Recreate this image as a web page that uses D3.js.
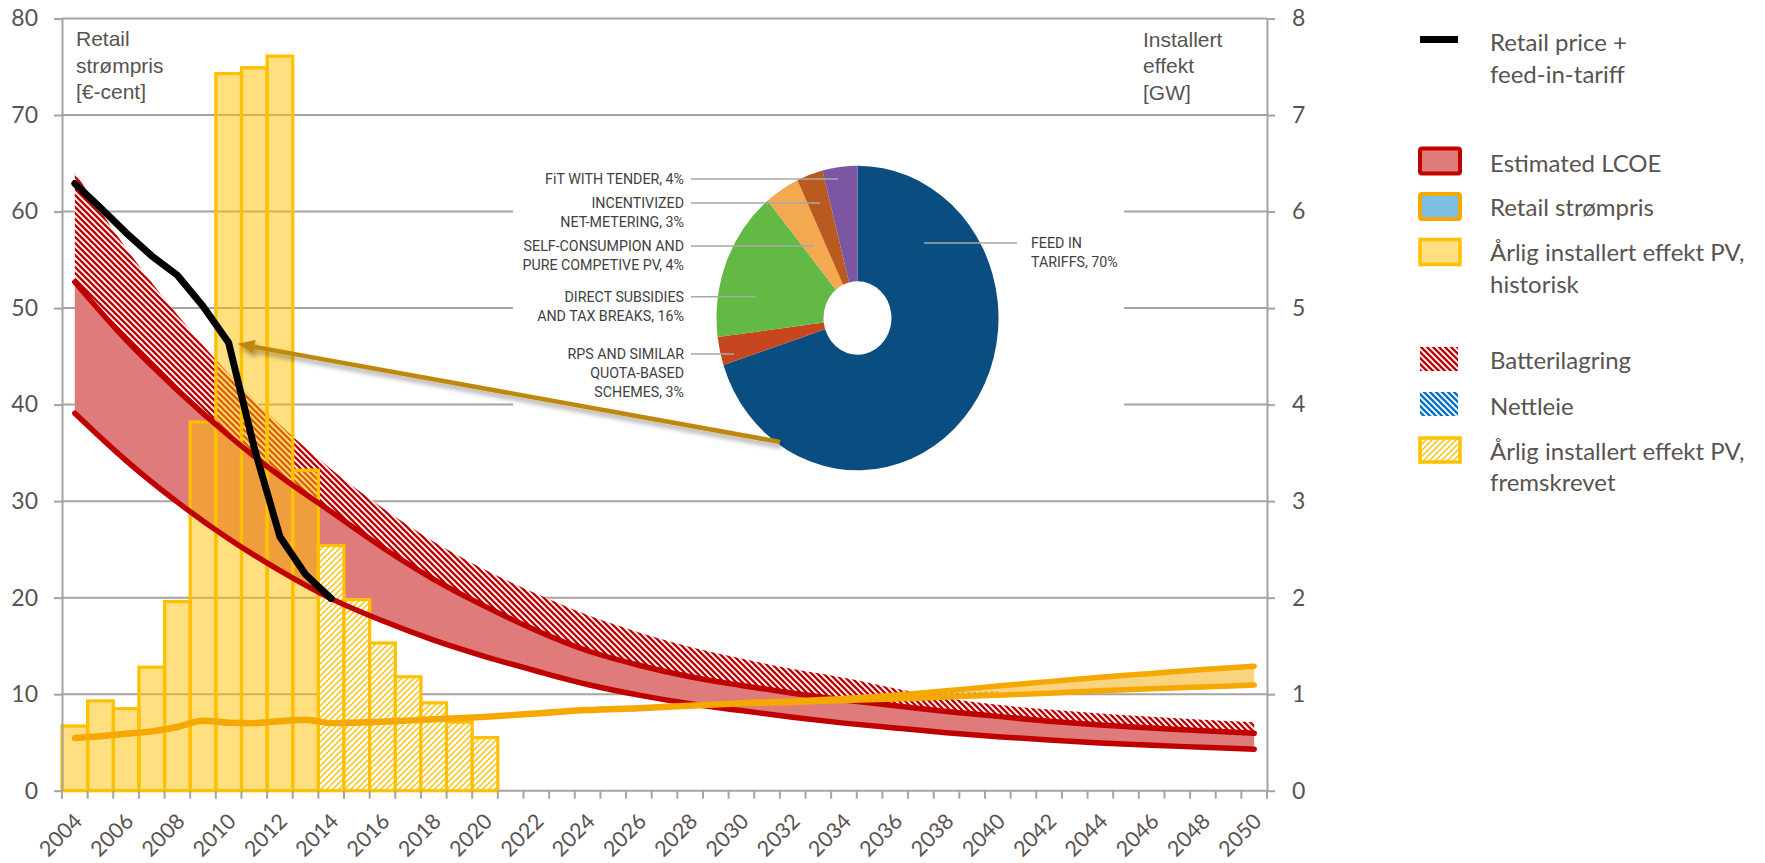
<!DOCTYPE html>
<html>
<head>
<meta charset="utf-8">
<script src="https://cdn.jsdelivr.net/npm/d3@7"></script>
<style>
  body { margin: 0; background: #fff; }
  svg { display: block; }
</style>
</head>
<body>
<svg id="chart" width="1765" height="863"></svg>
<script>
// ---------------- data ----------------
var years = [2004,2005,2006,2007,2008,2009,2010,2011,2012,2013,2014,2015,2016,2017,2018,2019,2020,
             2021,2022,2023,2024,2025,2026,2027,2028,2029,2030,2031,2032,2033,2034,2035,2036,2037,
             2038,2039,2040,2041,2042,2043,2044,2045,2046,2047,2048,2049,2050];
var tickYears = [2004,2006,2008,2010,2012,2014,2016,2018,2020,2022,2024,2026,2028,2030,2032,2034,
                 2036,2038,2040,2042,2044,2046,2048,2050];
var leftTicks = [0,10,20,30,40,50,60,70,80];
var rightTicks = [0,1,2,3,4,5,6,7,8];

// yearly installed PV [GW], right axis
var histYears = [2004,2005,2006,2007,2008,2009,2010,2011,2012,2013];
var histGW    = [0.67,0.93,0.85,1.28,1.96,3.82,7.43,7.49,7.61,3.32];
var projYears = [2014,2015,2016,2017,2018,2019,2020];
var projGW    = [2.54,1.98,1.53,1.18,0.91,0.71,0.55];

// retail price + feed-in-tariff [€-cent]
var fitYears = [2004,2005,2006,2007,2008,2009,2010,2011,2012,2013,2014];
var fitPrice = [62.9,60.4,57.8,55.4,53.4,50.2,46.4,35.5,26.3,22.4,19.9];

// retail strømpris [€-cent], low and high
var retailYears = [2004,2005,2006,2007,2008,2009,2010,2011,2012,2013,2014,2016,2018,2020,2022,2024,
                   2026,2028,2030,2032,2034,2036,2038,2040,2042,2044,2046,2048,2050];
var retailLow  = [5.4,5.6,5.85,6.1,6.55,7.2,7.0,6.95,7.15,7.3,6.95,7.1,7.35,7.6,7.95,8.3,
                  8.5,8.75,9.0,9.15,9.35,9.5,9.7,9.9,10.1,10.35,10.55,10.75,10.95];
var retailHigh = [5.5,5.7,5.95,6.2,6.65,7.3,7.1,7.05,7.25,7.4,7.05,7.2,7.45,7.7,8.05,8.4,
                  8.6,8.85,9.1,9.3,9.55,9.9,10.35,10.85,11.3,11.75,12.15,12.55,12.9];

// nettleie (mostly hidden under the retail band)
var netYears = [2034,2036,2038,2040];
var netLow   = [9.35,9.5,9.7,9.9];
var netHigh  = [9.5,9.8,10.1,10.3];

// estimated LCOE band and battery storage [€-cent]
var lcoeYears  = tickYears;
var lcoeLow    = [39.1,34.2,29.9,26.1,22.8,19.9,17.6,15.6,13.9,12.4,11.0,9.9,9.0,8.3,7.6,7.0,6.5,6.0,5.6,5.25,4.95,4.7,4.5,4.3];
var lcoeHigh   = [52.7,46.7,41.5,36.8,32.6,28.9,25.2,21.9,19.1,16.6,14.5,13.0,11.8,10.9,10.1,9.4,8.8,8.2,7.7,7.2,6.8,6.5,6.2,5.95];
var batteryTop = [64.1,56.2,49.3,43.2,37.9,33.3,29.3,25.8,22.9,20.4,18.2,16.4,14.9,13.7,12.6,11.7,10.6,9.6,8.9,8.4,8.0,7.65,7.35,7.1];

// pie: support schemes (clockwise from 12 o'clock)
var pieNames  = ["FEED IN|TARIFFS, 70%","RPS AND SIMILAR|QUOTA-BASED|SCHEMES, 3%","DIRECT SUBSIDIES|AND TAX BREAKS, 16%",
                 "SELF-CONSUMPION AND|PURE COMPETIVE PV, 4%","INCENTIVIZED|NET-METERING, 3%","FiT WITH TENDER, 4%"];
var pieShares = [70,3,16,4,3,4];
var pieColors = ["#0a4d81","#c6471f","#62b946","#f2a94f","#b95b1f","#7c56a2"];

var legendLabels = ["Retail price +|feed-in-tariff","Estimated LCOE","Retail strømpris",
                    "Årlig installert effekt PV,|historisk","Batterilagring","Nettleie",
                    "Årlig installert effekt PV,|fremskrevet"];

// ---------------- layout ----------------
var X0 = 62, X1 = 1267, Y0 = 790.7, Y1 = 18.5;
var textCol = "#595350", gridCol = "#a6a3a0";

var svg = d3.select("#chart");
var defs = svg.append("defs");

// diagonal hatch tiles: "\" when back=true, "/" otherwise
function hatch(id, color, size, lineW, back) {
  var p = defs.append("pattern").attr("id", id)
      .attr("patternUnits", "userSpaceOnUse")
      .attr("width", size).attr("height", size);
  p.append("rect").attr("width", size).attr("height", size).attr("fill", "#fff");
  var s = size;
  var d = back
    ? "M0,0L" + s + "," + s + "M" + (-s / 2) + "," + (s / 2) + "L" + (s / 2) + "," + (s * 1.5) +
      "M" + (s / 2) + "," + (-s / 2) + "L" + (s * 1.5) + "," + (s / 2)
    : "M0," + s + "L" + s + ",0M" + (-s / 2) + "," + (s / 2) + "L" + (s / 2) + "," + (-s / 2) +
      "M" + (s / 2) + "," + (s * 1.5) + "L" + (s * 1.5) + "," + (s / 2);
  p.append("path").attr("d", d).attr("stroke", color).attr("stroke-width", lineW)
      .attr("stroke-linecap", "square");
}
hatch("redHatch", "#c00000", 6, 2.3, true);
hatch("blueHatch", "#0070c0", 6, 2.3, true);
hatch("goldHatch", "#ffc000", 6, 1.4, false);

var shadow = defs.append("filter").attr("id", "shadow")
    .attr("x", "-10%").attr("y", "-50%").attr("width", "120%").attr("height", "200%");
shadow.append("feDropShadow").attr("dx", 2).attr("dy", 4).attr("stdDeviation", 2.5)
    .attr("flood-color", "#000").attr("flood-opacity", 0.35);

var x = d3.scaleBand().domain(years).range([X0, X1]).padding(0);
var bw = x.bandwidth();
function cx(yr) { return x(yr) + bw / 2; }
var yL = d3.scaleLinear().domain([0, 80]).range([Y0, Y1]);
var yR = d3.scaleLinear().domain([0, 8]).range([Y0, Y1]);

// gridlines
svg.append("g").selectAll("line").data(leftTicks).enter().append("line")
    .attr("x1", X0).attr("x2", X1)
    .attr("y1", function(d) { return yL(d); }).attr("y2", function(d) { return yL(d); })
    .attr("stroke", gridCol).attr("stroke-width", 2);

// white box behind the inset pie
svg.append("rect").attr("x", 513).attr("y", 125).attr("width", 611).attr("height", 355).attr("fill", "#fff");

// ---------------- LCOE band + battery ----------------
var lcoe = lcoeYears.map(function(yr, i) {
  return { yr: yr, lo: lcoeLow[i], hi: lcoeHigh[i], top: batteryTop[i] };
});
var curve = d3.curveMonotoneX;

svg.append("path").datum(lcoe)
    .attr("d", d3.area().curve(curve).x(function(d) { return cx(d.yr); })
        .y0(function(d) { return yL(d.lo); }).y1(function(d) { return yL(d.hi); }))
    .attr("fill", "#e07b7b");

svg.append("path").datum(lcoe)
    .attr("d", d3.area().curve(curve).x(function(d) { return cx(d.yr); })
        .y0(function(d) { return yL(d.hi); }).y1(function(d) { return yL(d.top); }))
    .attr("fill", "url(#redHatch)");

// ---------------- bars ----------------
svg.append("g").selectAll("rect").data(histYears).enter().append("rect")
    .attr("x", function(d) { return x(d); })
    .attr("y", function(d, i) { return yR(histGW[i]); })
    .attr("width", bw)
    .attr("height", function(d, i) { return Y0 - yR(histGW[i]); })
    .attr("fill", "rgba(255,192,0,0.5)")
    .attr("stroke", "#ffc000").attr("stroke-width", 3.2);

svg.append("g").selectAll("rect").data(projYears).enter().append("rect")
    .attr("x", function(d) { return x(d); })
    .attr("y", function(d, i) { return yR(projGW[i]); })
    .attr("width", bw)
    .attr("height", function(d, i) { return Y0 - yR(projGW[i]); })
    .attr("fill", "url(#goldHatch)")
    .attr("stroke", "#ffc000").attr("stroke-width", 3.2);

// LCOE edges
["lo", "hi"].forEach(function(k) {
  svg.append("path").datum(lcoe)
      .attr("d", d3.line().curve(curve).x(function(d) { return cx(d.yr); }).y(function(d) { return yL(d[k]); }))
      .attr("fill", "none").attr("stroke", "#c00000").attr("stroke-width", 5.5)
      .attr("stroke-linecap", "round");
});

// ---------------- retail strømpris ----------------
var net = netYears.map(function(yr, i) { return { yr: yr, lo: netLow[i], hi: netHigh[i] }; });
svg.append("path").datum(net)
    .attr("d", d3.area().curve(curve).x(function(d) { return cx(d.yr); })
        .y0(function(d) { return yL(d.lo); }).y1(function(d) { return yL(d.hi); }))
    .attr("fill", "url(#blueHatch)").attr("opacity", 0.55);

var retail = retailYears.map(function(yr, i) { return { yr: yr, lo: retailLow[i], hi: retailHigh[i] }; });
svg.append("path").datum(retail)
    .attr("d", d3.area().curve(curve).x(function(d) { return cx(d.yr); })
        .y0(function(d) { return yL(d.lo); }).y1(function(d) { return yL(d.hi); }))
    .attr("fill", "rgba(245,168,0,0.5)");
["lo", "hi"].forEach(function(k) {
  svg.append("path").datum(retail)
      .attr("d", d3.line().curve(curve).x(function(d) { return cx(d.yr); }).y(function(d) { return yL(d[k]); }))
      .attr("fill", "none").attr("stroke", "#f5a800").attr("stroke-width", 5.5)
      .attr("stroke-linecap", "round");
});

// ---------------- retail price + FiT ----------------
svg.append("path").datum(fitYears)
    .attr("d", d3.line().x(function(d) { return cx(d); }).y(function(d, i) { return yL(fitPrice[i]); }))
    .attr("fill", "none").attr("stroke", "#000").attr("stroke-width", 7)
    .attr("stroke-linejoin", "round").attr("stroke-linecap", "round");

// ---------------- axes ----------------
var leftAxis = svg.append("g").attr("transform", "translate(" + X0 + ",0)")
    .call(d3.axisLeft(yL).tickValues(leftTicks).tickSize(8).tickSizeOuter(0).tickPadding(16));
var rightAxis = svg.append("g").attr("transform", "translate(" + X1 + ",0)")
    .call(d3.axisRight(yR).tickValues(rightTicks).tickSize(8).tickSizeOuter(0).tickPadding(17));
[leftAxis, rightAxis].forEach(function(a) {
  a.select(".domain").attr("stroke", gridCol).attr("stroke-width", 2);
  a.selectAll(".tick line").attr("stroke", gridCol).attr("stroke-width", 2);
  a.selectAll(".tick text").attr("fill", textCol).style("font-family", "Lato, sans-serif")
      .style("font-size", "23px");
});

// x ticks at category edges
var edges = years.map(function(d) { return x(d); }).concat([X1]);
svg.append("g").selectAll("line").data(edges).enter().append("line")
    .attr("x1", function(d) { return d; }).attr("x2", function(d) { return d; })
    .attr("y1", Y0).attr("y2", Y0 + 8)
    .attr("stroke", gridCol).attr("stroke-width", 2);

svg.append("g").selectAll("text").data(tickYears).enter().append("text")
    .attr("transform", function(d) { return "translate(" + (cx(d) + 3) + "," + 817 + ") rotate(-45)"; })
    .attr("text-anchor", "end").attr("dominant-baseline", "central")
    .attr("fill", textCol).style("font-family", "Lato, sans-serif").style("font-size", "21.5px")
    .text(function(d) { return d; });

// axis titles
function multiline(g, lines, x0, y0, step, anchor) {
  lines.forEach(function(t, i) {
    g.append("text").attr("x", x0).attr("y", y0 + i * step)
        .attr("text-anchor", anchor || "start").attr("dominant-baseline", "central").text(t);
  });
}
var titles = svg.append("g").attr("fill", textCol)
    .style("font-family", "'Liberation Sans', Arial, sans-serif").style("font-size", "21px");
multiline(titles, ["Retail", "strømpris", "[€-cent]"], 76, 38.5, 26.5);
multiline(titles, ["Installert", "effekt", "[GW]"], 1143, 39, 26.5);

// ---------------- inset pie ----------------
var pieCx = 857.5, pieCy = 318;
var pieG = svg.append("g").attr("transform", "translate(" + pieCx + "," + pieCy + ") scale(1,1.08)");
var arcs = d3.pie().sort(null).value(function(d) { return d; })(pieShares);
pieG.selectAll("path").data(arcs).enter().append("path")
    .attr("d", d3.arc().innerRadius(34).outerRadius(141))
    .attr("fill", function(d, i) { return pieColors[i]; });

// label rows and leader lines (layout only)
var pieLayout = [
  { x: 1031, y: 243, lx1: 924, lx2: 1017, anchor: "start" },
  { x: 684, y: 354, lx1: 691, lx2: 734, anchor: "end" },
  { x: 684, y: 296.7, lx1: 691, lx2: 756, anchor: "end" },
  { x: 684, y: 246, lx1: 691, lx2: 814, anchor: "end" },
  { x: 684, y: 203, lx1: 691, lx2: 820, anchor: "end" },
  { x: 684, y: 179, lx1: 691, lx2: 838, anchor: "end" }
];
var pieText = svg.append("g").attr("fill", "#414141")
    .style("font-family", "Roboto, sans-serif").style("font-size", "15px");
pieNames.forEach(function(name, i) {
  var L = pieLayout[i];
  svg.append("line").attr("x1", L.lx1).attr("x2", L.lx2).attr("y1", L.y).attr("y2", L.y)
      .attr("stroke", "#a8a8a8").attr("stroke-width", 1.5);
  var g = pieText.append("g").attr("transform", "translate(" + L.x + "," + L.y + ") scale(0.95,1)");
  multiline(g, name.split("|"), 0, 0, 19, L.anchor);
});

// arrow from pie to the 2010 FiT point
var tipX = cx(2010) + 9, tipY = yL(fitPrice[fitYears.indexOf(2010)]) + 1;
var arrow = svg.append("g").attr("filter", "url(#shadow)");
var ang = Math.atan2(442 - tipY, 780 - tipX);
var hl = 17, hw = 7;
var bx = tipX + hl * Math.cos(ang), by = tipY + hl * Math.sin(ang);
arrow.append("line").attr("x1", 780).attr("y1", 442).attr("x2", bx).attr("y2", by)
    .attr("stroke", "#be870a").attr("stroke-width", 4.5);
arrow.append("path")
    .attr("d", "M" + tipX + "," + tipY +
         "L" + (bx - hw * Math.sin(ang)) + "," + (by + hw * Math.cos(ang)) +
         "L" + (bx + hw * Math.sin(ang)) + "," + (by - hw * Math.cos(ang)) + "Z")
    .attr("fill", "#be870a");

// ---------------- legend ----------------
var lg = svg.append("g");
lg.append("rect").attr("x", 1420).attr("y", 36).attr("width", 38).attr("height", 7).attr("fill", "#000");
lg.append("rect").attr("x", 1420).attr("y", 148.5).attr("width", 40).attr("height", 25).attr("rx", 2)
    .attr("fill", "#e07b7b").attr("stroke", "#c00000").attr("stroke-width", 4);
lg.append("rect").attr("x", 1420).attr("y", 194).attr("width", 40).attr("height", 25).attr("rx", 2)
    .attr("fill", "#80bfe4").attr("stroke", "#f5a800").attr("stroke-width", 4);
lg.append("rect").attr("x", 1420).attr("y", 239.5).attr("width", 40).attr("height", 25)
    .attr("fill", "#ffdf80").attr("stroke", "#ffc000").attr("stroke-width", 3.5);
lg.append("rect").attr("x", 1420).attr("y", 347).attr("width", 38).attr("height", 24).attr("fill", "url(#redHatch)");
lg.append("rect").attr("x", 1420).attr("y", 392).attr("width", 38).attr("height", 24).attr("fill", "url(#blueHatch)");
lg.append("rect").attr("x", 1420).attr("y", 438).attr("width", 40).attr("height", 24)
    .attr("fill", "url(#goldHatch)").attr("stroke", "#ffc000").attr("stroke-width", 3.5);

var legendY = [41.7, 162.3, 206.7, 251.7, 359, 405, 450];
var lt = lg.append("g").attr("fill", textCol)
    .style("font-family", "Lato, sans-serif").style("font-size", "24px");
legendLabels.forEach(function(lab, i) {
  multiline(lt, lab.split("|"), 1490, legendY[i], 31.5);
});
</script>
</body>
</html>
